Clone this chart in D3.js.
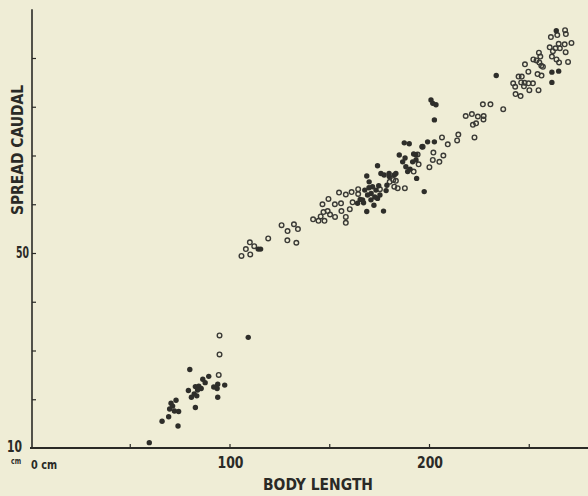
<!DOCTYPE html>
<html>
<head>
<meta charset="utf-8">
<script src="https://cdn.jsdelivr.net/npm/d3@7"></script>
<style>
  html, body { margin: 0; padding: 0; background: #efedd6; }
  svg { display: block; }
  text { font-family: "Liberation Sans Narrow", "DejaVu Sans Condensed", "Roboto Condensed", sans-serif; font-stretch: condensed; fill: #2a2a26; font-weight: bold; }
</style>
</head>
<body>
<svg id="chart" width="588" height="496"></svg>
<script>
// Body length (cm) vs caudal spread (cm)
const openX = [95.0,95.0,94.6,110.2,112.4,108.2,110.4,106.0,119.4,126.1,132.3,129.1,134.3,129.0,133.5,
  141.9,144.6,147.6,145.7,147.1,149.2,150.4,152.9,146.6,149.6,152.8,155.9,156.1,160.3,158.3,158.3,154.9,158.3,161.2,164.5,161.7,164.5,
  180.3,183.4,182.6,184.3,175.4,187.9,182.1,192.3,194.3,194.8,200.2,202.2,201.9,205.2,196.8,
  207.2,206.5,209.4,214.7,214.1,218.4,221.5,224.5,227.4,227.3,222.0,223.6,222.8,227.0,230.8,237.2,
  242.2,243.2,244.9,246.5,246.2,247.9,249.9,252.1,247.6,250.3,254.9,243.4,245.9,249.8,248.1,252.3,253.9,255.3,256.3,257.1,255.1,255.8,254.4,256.4,
  261.6,263.9,265.2,269.7,261.1,264.3,265.0,268.0,271.4,263.4,265.6,268.5,268.2,268.6,260.5,262.1];
const openY = [33.1,29.2,25.0,52.2,51.4,50.8,49.7,49.4,53.0,55.7,55.9,54.5,54.9,52.6,52.1,
  56.9,56.6,56.6,57.5,58.4,58.6,57.9,57.4,60.0,61.1,60.0,60.2,58.6,59.0,57.4,56.2,62.4,62.0,62.5,63.1,60.4,62.1,
  64.6,64.8,63.6,63.3,63.1,63.3,65.0,66.7,70.2,68.2,67.6,70.6,69.1,68.7,71.8,
  70.0,73.7,72.3,74.3,73.1,78.1,78.5,78.0,78.1,77.4,76.3,76.6,73.7,80.5,80.5,79.5,
  84.8,84.1,86.2,86.2,85.0,84.9,84.8,84.8,84.2,83.4,83.4,82.6,82.2,87.2,88.7,89.7,89.5,89.1,88.4,88.2,91.1,90.3,86.7,86.4,
  90.3,89.7,89.1,89.2,94.3,94.7,92.9,92.8,93.1,92.0,92.0,91.2,95.7,94.9,92.2,91.4];
const filledX = [59.8,66.2,69.5,74.2,70.0,72.4,74.5,70.7,73.2,80.1,79.4,80.9,82.3,83.6,82.9,84.6,85.8,86.6,89.6,82.9,
  94.1,92.1,93.8,97.6,94.1,109.4,114.4,115.6,168.8,177.2,
  168.8,170.0,171.7,173.4,169.2,166.7,164.2,174.2,170.9,172.4,175.4,167.8,
  174.2,175.9,180.0,183.4,178.9,178.5,197.6,193.8,185.1,186.8,188.4,189.3,191.8,193.5,187.6,190.1,199.3,202.7,196.5,
  201.0,201.9,203.5,202.7,233.7,261.6,265.0,261.6,263.8,177.5,180.1,182.6,192.3,193.5,
  171.0,172.8,169.9,174.8,165.5,167.2,87.8,84.0,71.5,188.0,190.5];
const filledY = [11.1,15.5,16.4,14.5,18.0,17.6,17.5,19.2,19.8,26.1,21.8,20.4,21.1,20.7,22.6,22.7,22.2,24.1,24.7,18.3,
  23.1,22.5,22.2,22.9,20.4,32.7,50.8,50.8,58.5,58.6,
  65.8,64.6,63.6,62.9,61.9,60.9,60.2,61.2,60.9,59.8,61.9,62.9,
  67.9,66.3,66.3,66.3,63.9,62.8,62.6,65.3,70.1,68.7,67.7,66.7,68.7,70.1,72.6,72.4,72.8,72.8,71.8,
  81.4,80.7,80.4,77.3,86.4,87.1,87.3,85.0,95.6,66.0,65.7,66.0,70.3,69.1,
  62.2,61.5,63.4,63.8,61.0,60.3,23.4,21.9,18.6,69.5,67.2];
const xTickValues = [50, 100, 150, 200, 250];
const xTickLabels = ["100", "200"];
const yTickValues = [20, 30, 40, 50, 60, 70, 80, 90];
const yTickLabels = ["50"];
const xTitle = "BODY LENGTH";
const yTitle = "SPREAD CAUDAL";

const ink = "#2a2a26";
const svg = d3.select("#chart");
const x = d3.scaleLinear().domain([0, 280]).range([30, 30 + 1.995 * 280]);
const y = d3.scaleLinear().domain([10, 100]).range([448, 448 - 90 * 4.875]);

// axes
const xAxis = d3.axisBottom(x).tickValues(xTickValues).tickSize(-4).tickFormat("");
const gx = svg.append("g").attr("transform", `translate(0,${y(10)})`).call(xAxis);
gx.select(".domain").attr("d", `M${x(0)},0H${x(280)}`).attr("stroke", ink).attr("stroke-width", 1.8);
gx.selectAll(".tick line").attr("stroke", ink).attr("stroke-width", 1.2);

const yAxis = d3.axisLeft(y).tickValues(yTickValues).tickSize(-4).tickFormat("");
const gy = svg.append("g").attr("transform", `translate(${x(0) + 2},0)`).call(yAxis);
gy.select(".domain").attr("d", `M0,${y(10)}V${y(100)}`).attr("stroke", ink).attr("stroke-width", 1.6);
gy.selectAll(".tick line").attr("stroke", ink).attr("stroke-width", 1.2);

// tick labels
svg.selectAll(".xlab").data(xTickLabels).enter().append("text")
  .attr("x", d => x(+d) - 12).attr("y", 468)
  .attr("font-size", 15).attr("textLength", 26).attr("lengthAdjust", "spacingAndGlyphs").text(d => d);
svg.selectAll(".ylab").data(yTickLabels).enter().append("text")
  .attr("x", 16).attr("y", y(50) + 5)
  .attr("font-size", 15).attr("textLength", 13).attr("lengthAdjust", "spacingAndGlyphs").text(d => d);
svg.append("text").attr("x", 7).attr("y", 452)
  .attr("font-size", 16).attr("textLength", 15).attr("lengthAdjust", "spacingAndGlyphs").text("10");
svg.append("text").attr("x", 11).attr("y", 464)
  .attr("font-size", 8).attr("textLength", 10).attr("lengthAdjust", "spacingAndGlyphs").text("cm");
svg.append("text").attr("x", 31).attr("y", 469)
  .attr("font-size", 12).attr("textLength", 26).attr("lengthAdjust", "spacingAndGlyphs").text("0 cm");

// titles
svg.append("text").attr("x", 263).attr("y", 490)
  .attr("font-size", 16).attr("textLength", 110).attr("lengthAdjust", "spacingAndGlyphs").text(xTitle);
svg.append("text").attr("transform", `translate(23,215) rotate(-90)`)
  .attr("font-size", 16).attr("textLength", 130).attr("lengthAdjust", "spacingAndGlyphs").text(yTitle);

// points
const openPts = openX.map((v, i) => [v, openY[i]]);
const filledPts = filledX.map((v, i) => [v, filledY[i]]);
svg.append("g").selectAll("circle").data(openPts).enter().append("circle")
  .attr("cx", d => x(d[0])).attr("cy", d => y(d[1])).attr("r", 2.3)
  .attr("fill", "none").attr("stroke", "#3a3a36").attr("stroke-width", 1.4);
svg.append("g").selectAll("circle").data(filledPts).enter().append("circle")
  .attr("cx", d => x(d[0])).attr("cy", d => y(d[1])).attr("r", 2.7)
  .attr("fill", "#2e2e2a");
</script>
</body>
</html>
